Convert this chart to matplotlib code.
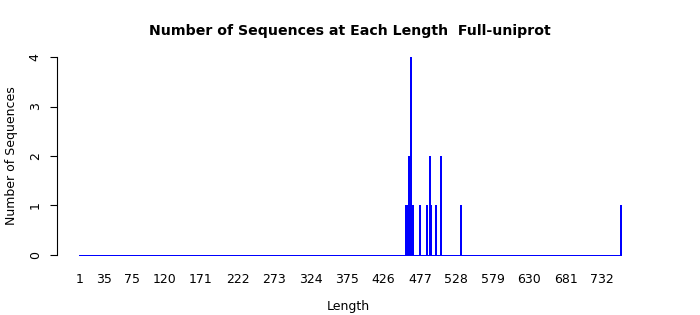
import numpy as np
import matplotlib
matplotlib.use("Agg")
from matplotlib import pyplot as plt

# sequence lengths that occur, and how many sequences have each length
lengths = [457, 458, 461, 464, 467, 477, 486, 490, 492, 499, 506, 534, 757]
counts = [1, 1, 2, 4, 1, 1, 1, 2, 1, 1, 2, 1, 1]

# labels that R's barplot kept on the x axis
tick_labels = [1, 35, 75, 120, 171, 222, 273, 324, 375, 426, 477, 528, 579, 630, 681, 732]
y_ticks = [0, 1, 2, 3, 4]

# one bar per length from 1 to the longest, empty lengths have height 0
all_lengths = np.arange(1, max(lengths) + 1)
all_counts = np.zeros(len(all_lengths))
for length, count in zip(lengths, counts):
    all_counts[length - 1] = count

fig = plt.figure(figsize=(7, 3.15), dpi=100)
ax = fig.add_axes([57 / 700, 0.1654, (640 - 57) / 700, 0.8441 - 0.1654])

ax.bar(all_lengths, all_counts, width=1.3, color="blue", edgecolor="blue",
       linewidth=0.5, antialiased=False)

ax.set_xlim(-30.2, 784.6)
ax.set_ylim(-0.16, 4.16)

for side in ["top", "right", "bottom"]:
    ax.spines[side].set_visible(False)
ax.spines["left"].set_bounds(0, 4)
ax.spines["left"].set_linewidth(0.8)

ax.set_yticks(y_ticks)
ax.set_yticklabels([str(t) for t in y_ticks], rotation=90, va="center", fontsize=9)
ax.tick_params(axis="y", length=5, width=0.8, pad=6)

ax.set_xticks(tick_labels)
ax.set_xticklabels([str(t) for t in tick_labels], fontsize=9)
ax.tick_params(axis="x", length=0, pad=7.5)

ax.set_xlabel("Length", fontsize=9, labelpad=10)
ax.set_ylabel("Number of Sequences", fontsize=9, labelpad=8)
fig.suptitle("Number of Sequences at Each Length  Full-uniprot", fontsize=10.2,
             fontweight="bold", y=0.925)

fig.savefig("out.png", dpi=100)
